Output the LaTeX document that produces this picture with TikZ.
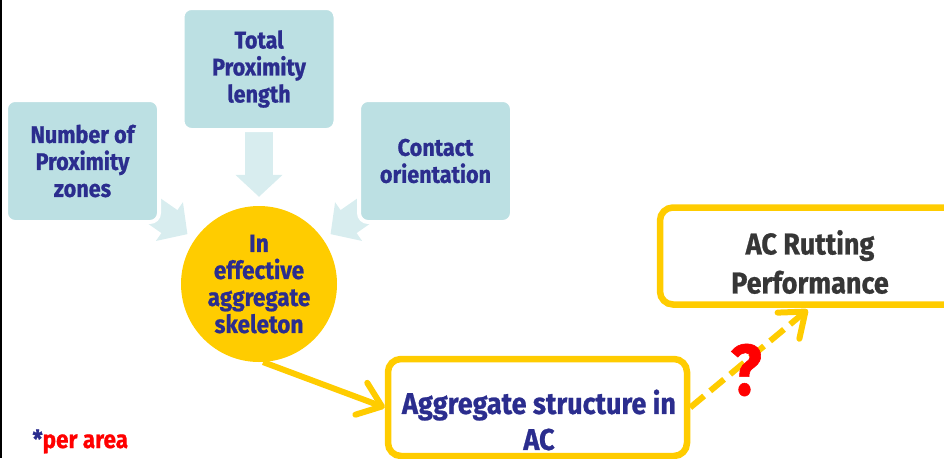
\documentclass[tikz,border=0pt]{standalone}
\usepackage{fontspec}
\setmainfont{Fira Sans}[FakeStretch=0.9, BoldFeatures={FakeBold=0.8}]
\usetikzlibrary{arrows.meta}
\pgfdeclarelayer{background}
\pgfsetlayers{background,main}
\definecolor{tealbox}{HTML}{BCE0E3}
\definecolor{tealarrow}{HTML}{D8EDEF}
\definecolor{gold}{HTML}{FFCC00}
\definecolor{navy}{HTML}{2B2D8E}
\definecolor{charcoal}{HTML}{363636}
\definecolor{alertred}{HTML}{FF0000}

\begin{document}
\begin{tikzpicture}[x=1pt,y=-1pt,
  factor/.style={rectangle, rounded corners=9pt, fill=tealbox, draw=white,
    line width=4pt, minimum width=153pt, minimum height=122pt, inner sep=0pt,
    align=center, text=navy, font=\bfseries\fontsize{24}{27}\selectfont},
  feed/.style={draw=tealarrow, line width=28pt,
    -{Triangle[width=46pt,length=22pt]}, shorten >=9pt},
  hub/.style={circle, fill=gold, minimum size=156pt, inner sep=0pt,
    align=center, text=navy, font=\bfseries\fontsize{25}{27}\selectfont},
  outline/.style={rectangle, rounded corners=13pt, draw=gold,
    line width=6.5pt, fill=white, inner sep=0pt},
  link/.style={draw=gold, line width=6pt,
    -{Straight Barb[length=22pt,width=34pt,round]}},
]
\useasboundingbox (0,0) rectangle (944,458);
\clip (0,0) rectangle (944,458);

% left frame rule
\fill[black] (0,0) rectangle (2,458);

% three measured quantities
\node[factor] (zones) at (82.5,161) {Number of\\Proximity\\zones};
\node[factor] (length) at (259,69) {Total\\Proximity\\length};
\node[factor] (orient) at (435.5,161) {Contact\\orientation};

% central idea
\node[hub] (skel) at (259,284) {In\\effective\\aggregate\\skeleton};

% block arrows feeding the centre, behind the boxes
\begin{pgfonlayer}{background}
  \draw[feed] (zones.center) -- (skel);
  \draw[feed] (length.center) -- (skel);
  \draw[feed] (orient.center) -- (skel);
\end{pgfonlayer}

% aggregate structure box
\node[outline, minimum width=299pt, minimum height=97pt] (agg) at (537.5,407.5) {};
\node[text=navy, align=center, font=\bfseries\fontsize{30}{36}\selectfont]
  (aggtext) at (539,420) {Aggregate structure in\\AC};

% rutting performance box
\node[outline, minimum width=300pt, minimum height=97pt] (rut) at (810,256) {};
\node[align=center, text=charcoal, font=\bfseries\fontsize{30}{39}\selectfont]
  (ruttext) at (810,262) {AC Rutting\\Performance};

% connectors
\draw[link] (skel.-87) -- (agg.west);
\draw[link, dash pattern=on 18pt off 8pt, shorten >=3pt] (agg.east) -- (rut.south);

\node[text=alertred, font=\bfseries\fontsize{72}{72}\selectfont] (q) at (746,370) {?};

\node[anchor=base west, font=\bfseries\fontsize{25}{27}\selectfont] (note) at (29,448)
  {\textcolor{navy}{*}\textcolor{alertred}{per area}};
\end{tikzpicture}
\end{document}
